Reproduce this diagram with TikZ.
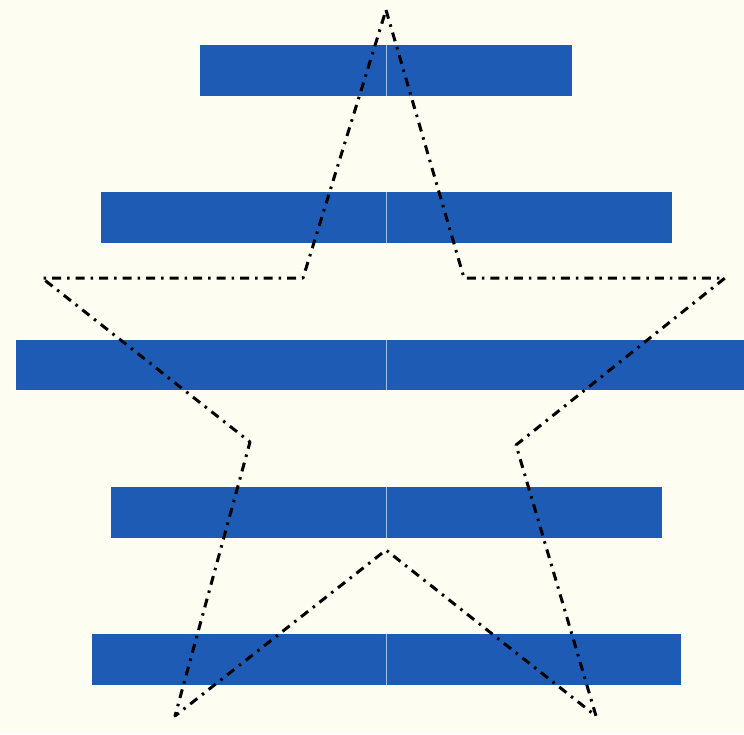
\documentclass[tikz,border=0pt]{standalone}
\usepackage{xcolor}
\usepackage{tikz}

\definecolor{paper}{RGB}{253,253,242}
\definecolor{barblue}{RGB}{29,91,181}
\definecolor{seam}{RGB}{165,192,230}

\begin{document}
\begin{tikzpicture}[x=1pt, y=-1pt]
    % Background
    \fill[paper] (0,0) rectangle (744,734);
    \useasboundingbox (0,0) rectangle (744,734);

    % Bars
    \fill[barblue] (200,45) rectangle (572,96);
    \fill[barblue] (101,192) rectangle (672,243);
    \fill[barblue] (16,340) rectangle (744,390);
    \fill[barblue] (111,487) rectangle (662,538);
    \fill[barblue] (92,634) rectangle (681,685);

    % Seam
    \foreach \top/\bot in {45/96, 192/243, 340/390, 487/538, 634/685}
        \draw[seam, line width=1pt] (386,\top) -- (386,\bot);

    % Star outline
    \draw[line width=3pt, line join=round,
          dash pattern=on 9pt off 6pt on 2.5pt off 6pt]
        (386,10) -- (464,278) -- (725,278) -- (516,445) -- (596,716)
        -- (386,550) -- (175,716) -- (250,442) -- (42,278) -- (303,278)
        -- cycle;
\end{tikzpicture}
\end{document}
